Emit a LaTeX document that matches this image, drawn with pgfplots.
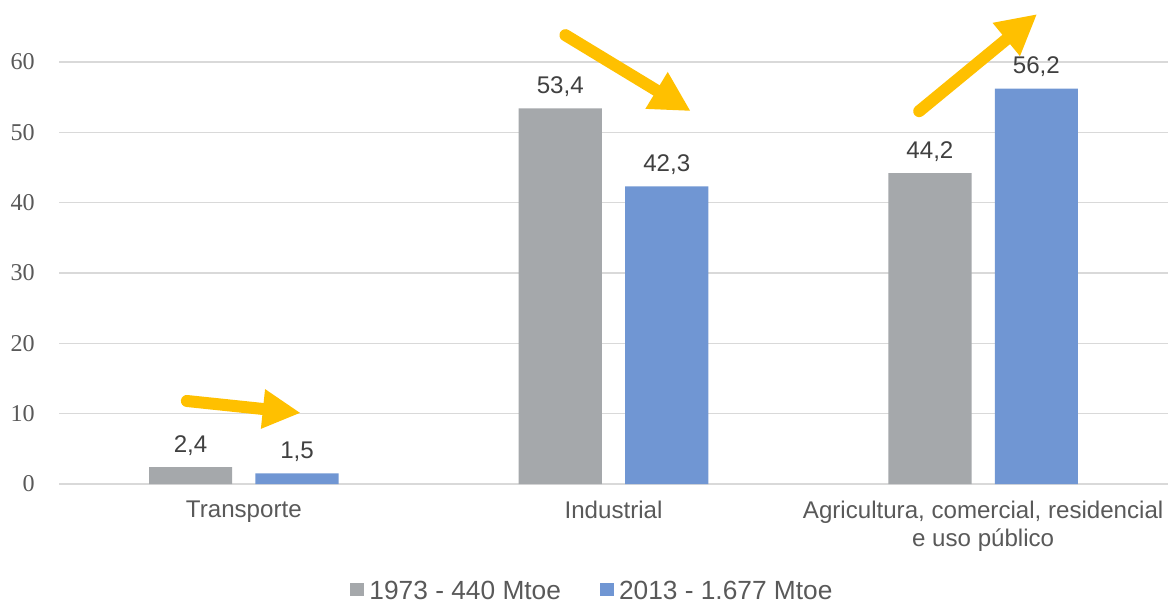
\documentclass[border=0pt]{standalone}
\usepackage{fontspec}
\setmainfont{Liberation Sans}
\newfontfamily\seriffont{Liberation Serif}
\usepackage{pgfplots}
\pgfplotsset{compat=1.18}
\usetikzlibrary{arrows.meta}
\definecolor{barGray}{RGB}{165,168,171}
\definecolor{barBlue}{RGB}{112,150,211}
\definecolor{arrowY}{RGB}{255,192,0}
\definecolor{gridGray}{RGB}{217,217,217}
\definecolor{tickGray}{RGB}{89,89,89}
\definecolor{labGray}{RGB}{64,64,64}
\newcommand{\bigfont}{\fontsize{24.2}{28}\selectfont}
\newcommand{\legfont}{\fontsize{26.4}{30}\selectfont}
\begin{document}
\begin{tikzpicture}
\begin{axis}[
  at={(0,0)}, anchor=south west,
  scale only axis, width=1109bp, height=484bp,
  xmin=-0.5, xmax=2.5, ymin=0, ymax=68.8,
  clip=false,
  axis line style={draw=none},
  major tick length=0pt,
  ytick={0,10,...,60},
  ymajorgrids,
  grid style={color=gridGray, line width=1.4bp},
  xtick={0,1,2},
  xticklabels={Transporte, Industrial, {Agricultura, comercial, residencial\\e uso público}},
  xticklabel style={font=\bigfont, text=tickGray, align=center, inner sep=0pt, anchor=north, yshift=-17bp},
  yticklabel style={font=\seriffont\bigfont, text=tickGray, inner sep=0pt, anchor=east, xshift=-24bp},
  /pgf/number format/assume math mode=true,
  ybar, bar width=0.225,
  nodes near coords,
  every node near coord/.append style={font=\bigfont, text=labGray, anchor=base, inner sep=0pt, yshift=15bp,
    /pgf/number format/.cd, use comma, fixed, fixed zerofill, precision=1},
  legend style={at={(axis description cs:0.4824,-0.221)}, anchor=center, draw=none, fill=none,
    font=\legfont, text=tickGray, legend columns=2,
    /tikz/every even column/.append style={column sep=34bp},
    nodes={inner sep=5bp}},
  legend image code/.code={\fill[#1] (0bp,-5bp) rectangle (14bp,8bp);},
]
\addplot[fill=barGray, draw=none, bar shift=-0.144] coordinates {(0,2.4) (1,53.4) (2,44.2)};
\addlegendentry{1973 - 440 Mtoe}
\addplot[fill=barBlue, draw=none, bar shift=0.144] coordinates {(0,1.5) (1,42.3) (2,56.2)};
\addlegendentry{2013 - 1.677 Mtoe}
\draw[arrowY, line width=12bp, line cap=round, -{Triangle[width=37bp,length=38bp]}]
  (axis cs:-0.154,11.8) -- (axis cs:0.154,10.1);
\draw[arrowY, line width=12bp, line cap=round, -{Triangle[width=40bp,length=40bp]}]
  (axis cs:0.870,63.8) -- (axis cs:1.209,53.0);
\draw[arrowY, line width=12bp, line cap=round, -{Triangle[width=40bp,length=40bp]}]
  (axis cs:1.827,53.0) -- (axis cs:2.146,66.8);
\end{axis}
\pgfresetboundingbox
\path[use as bounding box] (-59bp,-119bp) rectangle (1115bp,484bp);
\end{tikzpicture}
\end{document}
